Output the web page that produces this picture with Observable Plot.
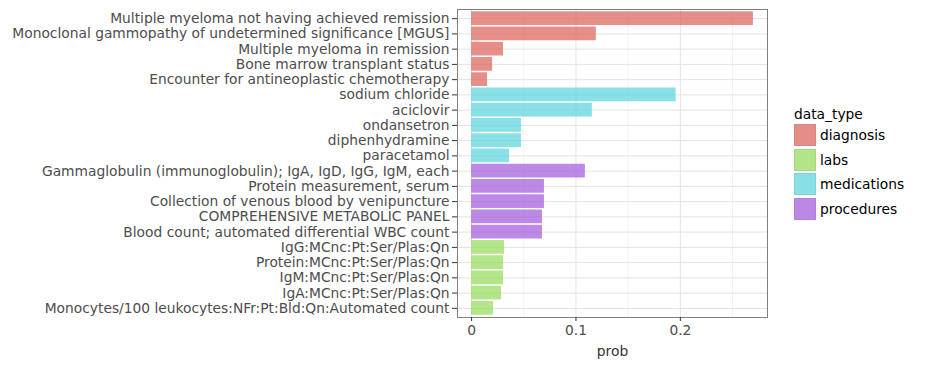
<!DOCTYPE html>
<html><head><meta charset="utf-8">
<script src="https://cdn.jsdelivr.net/npm/d3@7"></script>
<script src="https://cdn.jsdelivr.net/npm/@observablehq/plot@0.6"></script>
<style>
body{margin:0;background:#fff;font-family:"DejaVu Sans",sans-serif;}
#wrap{position:relative;width:931px;height:368px;overflow:hidden;}
#legend{position:absolute;left:794px;top:106px;font-size:13.8px;color:#000;}
#legend .title{margin-bottom:2px;line-height:16px;}
#legend .row{display:flex;align-items:center;height:22px;margin-bottom:2.5px;}
#legend .key{width:22px;height:22px;box-sizing:border-box;margin-right:4px;}
svg [aria-label="y-axis tick label"] text, svg [aria-label="x-axis tick label"] text{fill:#4d4d4d;}
</style></head><body><div id="wrap"></div>
<script>
const labels = [
  "Multiple myeloma not having achieved remission",
  "Monoclonal gammopathy of undetermined significance [MGUS]",
  "Multiple myeloma in remission",
  "Bone marrow transplant status",
  "Encounter for antineoplastic chemotherapy",
  "sodium chloride",
  "aciclovir",
  "ondansetron",
  "diphenhydramine",
  "paracetamol",
  "Gammaglobulin (immunoglobulin); IgA, IgD, IgG, IgM, each",
  "Protein measurement, serum",
  "Collection of venous blood by venipuncture",
  "COMPREHENSIVE METABOLIC PANEL",
  "Blood count; automated differential WBC count",
  "IgG:MCnc:Pt:Ser/Plas:Qn",
  "Protein:MCnc:Pt:Ser/Plas:Qn",
  "IgM:MCnc:Pt:Ser/Plas:Qn",
  "IgA:MCnc:Pt:Ser/Plas:Qn",
  "Monocytes/100 leukocytes:NFr:Pt:Bld:Qn:Automated count"
];
const probs = [0.270, 0.1195, 0.0306, 0.0201, 0.0153,
               0.196, 0.1157, 0.0478, 0.0478, 0.0363,
               0.109, 0.0698, 0.0698, 0.0679, 0.0679,
               0.0316, 0.0306, 0.0306, 0.0287, 0.0210];
const types = ["diagnosis","diagnosis","diagnosis","diagnosis","diagnosis",
               "medications","medications","medications","medications","medications",
               "procedures","procedures","procedures","procedures","procedures",
               "labs","labs","labs","labs","labs"];
const typeDomain = ["diagnosis","labs","medications","procedures"];
const typeColors = ["#DB5F57","#91DB57","#57D3DB","#A157DB"];
const xTicks = [0, 0.1, 0.2];
const xMinor = [0.05, 0.15, 0.25];
const xTickLabels = ["0", "0.1", "0.2"];
const xTitle = "prob";
const legendTitle = "data_type";

const data = labels.map((label, i) => ({label, prob: probs[i], type: types[i]}));

const plot = Plot.plot({
  width: 931, height: 368,
  marginLeft: 457, marginRight: 164, marginTop: 9, marginBottom: 51,
  style: {fontFamily: "DejaVu Sans", fontSize: "13.8px", background: "white", color: "#333"},
  x: {domain: [-0.0135, 0.2835]},
  y: {domain: labels, paddingInner: 0.1, paddingOuter: 0.15, round: false},
  color: {domain: typeDomain, range: typeColors},
  marks: [
    Plot.ruleX(xMinor, {stroke: "#f2f2f2", strokeWidth: 1}),
    Plot.ruleX(xTicks, {stroke: "#e3e3e3", strokeWidth: 1}),
    Plot.ruleY(labels, {y: d => d, stroke: "#e3e3e3", strokeWidth: 1}),
    Plot.barX(data, {x: "prob", y: "label", fill: "type", fillOpacity: 0.7}),
    Plot.frame({stroke: "#7f7f7f", strokeWidth: 1}),
    Plot.axisY({tickSize: 5, tickPadding: 3, label: null, fontSize: 13.8}),
    Plot.axisX({ticks: xTicks, tickFormat: (d) => xTickLabels[xTicks.indexOf(d)], tickSize: 4, tickPadding: 4,
                label: xTitle, labelAnchor: "center", labelArrow: "none", labelOffset: 38, fontSize: 13.8})
  ]
});
const wrap = document.getElementById("wrap");
wrap.appendChild(plot);

const legend = document.createElement("div");
legend.id = "legend";
const t = document.createElement("div");
t.className = "title"; t.textContent = legendTitle;
legend.appendChild(t);
typeDomain.forEach((d, i) => {
  const row = document.createElement("div"); row.className = "row";
  const key = document.createElement("div"); key.className = "key";
  const c = d3.color(typeColors[i]);
  key.style.background = typeColors[i];
  key.style.opacity = 0.7;
  key.style.border = "1px solid " + c.darker(0.3);
  const lab = document.createElement("span"); lab.textContent = d;
  row.appendChild(key); row.appendChild(lab);
  legend.appendChild(row);
});
wrap.appendChild(legend);
</script></body></html>
